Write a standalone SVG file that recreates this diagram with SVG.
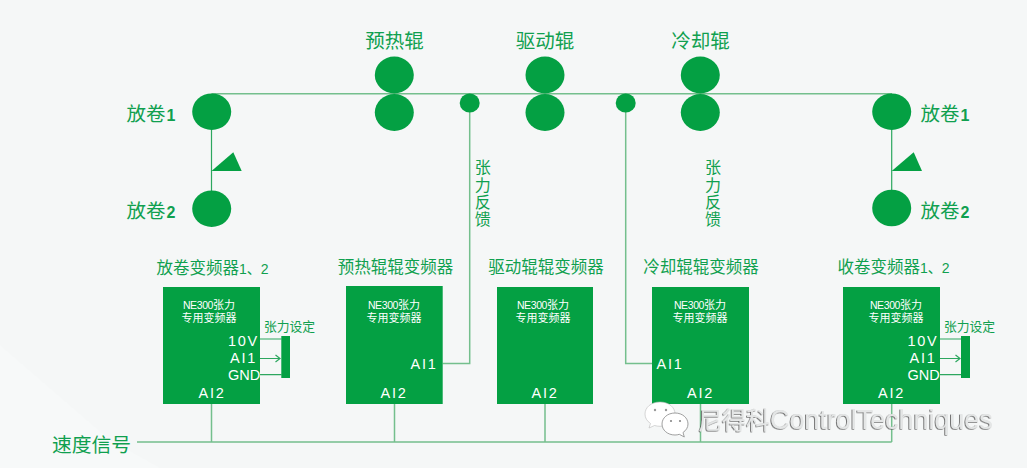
<svg xmlns="http://www.w3.org/2000/svg" width="1027" height="468" viewBox="0 0 1027 468">
<defs>
<style>
text{font-family:"Liberation Sans","Noto Sans CJK SC",sans-serif}
.roll{fill:#04a043}
.box{fill:#04a043}
.wire{fill:none;stroke:#74bf8d;stroke-width:1.5}
.wd{fill:none;stroke:#2da75f;stroke-width:1.2}
.lab{fill:#10a04f;text-anchor:middle}
.l20{font-size:19.5px}
.l16{font-size:16.5px}
.l15{font-size:16px}
.d{font-size:14px}
.r{font-size:16px;font-weight:bold}
.t{fill:#fff;font-size:11px;text-anchor:middle}
.n{font-size:10.5px;letter-spacing:-.4px}
.p{fill:#fff;font-size:14.5px;text-anchor:middle;letter-spacing:1.8px}
.g{letter-spacing:0}
</style>
<filter id="sh" x="-5%" y="-20%" width="110%" height="140%"><feDropShadow dx="-0.8" dy="0.6" stdDeviation="0.4" flood-color="#555"/></filter>
</defs>
<rect width="1027" height="468" fill="#f5f7f7"/>
<polygon points="0,345 110,440 160,468 0,468" fill="#f7f9f9"/>
<g id="connectors">
<path class="wire" d="M211.5 93.7H892"/>
<path class="wd" d="M211.5 125V195M891.7 125V195"/>
<path class="wire" d="M469.7 110V363.5H442.7"/>
<path class="wire" d="M625.7 110V363.5H652"/>
<path class="wire" d="M137 442H891.7M211.5 404V442M394.5 404V442M545 404V442M700.5 404V442M891.7 404V442"/>
<path class="wd" d="M260 339H281.5M260 358.5H280M275.5 355L280 358.5L275.5 362M260 374.7H281.5"/>
<path class="wd" d="M940 339H961.5M940 358.5H960M955.5 355L960 358.5L955.5 362M940 374.7H961.5"/>
</g>
<g id="unwind1"><ellipse class="roll" cx="211.7" cy="111.7" rx="19.5" ry="18.3"/><text class="lab l20" x="151" y="121">放卷<tspan class="r" dx="1">1</tspan></text></g>
<g id="unwind2"><ellipse class="roll" cx="211.7" cy="208.7" rx="19.5" ry="18.3"/><text class="lab l20" x="151" y="218">放卷<tspan class="r" dx="1">2</tspan></text></g>
<g id="dancer-left"><polygon class="roll" points="211.5,171 233.3,152.3 241.7,171"/></g>
<g id="preheat"><text class="lab l20" x="394.5" y="47.500">预热辊</text><ellipse class="roll" cx="394.3" cy="75" rx="19.5" ry="18.5"/><ellipse class="roll" cx="394.3" cy="112.5" rx="19.5" ry="18.5"/></g>
<g id="drive"><text class="lab l20" x="545" y="47.500">驱动辊</text><ellipse class="roll" cx="545" cy="75" rx="19.5" ry="18.5"/><ellipse class="roll" cx="545" cy="112.5" rx="19.5" ry="18.5"/></g>
<g id="cool"><text class="lab l20" x="700.5" y="47.500">冷却辊</text><ellipse class="roll" cx="700.3" cy="75" rx="19.5" ry="18.5"/><ellipse class="roll" cx="700.3" cy="112.5" rx="19.5" ry="18.5"/></g>
<g id="sensor1"><ellipse class="roll" cx="469.7" cy="103" rx="10" ry="9.5"/></g>
<g id="sensor2"><ellipse class="roll" cx="625.7" cy="103" rx="10" ry="9.5"/></g>
<g id="rewind1"><ellipse class="roll" cx="891.7" cy="111.7" rx="19.5" ry="18.3"/><text class="lab l20" x="945" y="121">放卷<tspan class="r" dx="1">1</tspan></text></g>
<g id="rewind2"><ellipse class="roll" cx="891.7" cy="208" rx="19.5" ry="18.3"/><text class="lab l20" x="945" y="218">放卷<tspan class="r" dx="1">2</tspan></text></g>
<g id="dancer-right"><polygon class="roll" points="891.7,171 913.7,152.3 922,171"/></g>
<g id="feedback1"><text class="lab l15" x="482.7" y="173">张</text><text class="lab l15" x="482.7" y="191">力</text><text class="lab l15" x="482.7" y="208">反</text><text class="lab l15" x="482.7" y="225">馈</text></g>
<g id="feedback2"><text class="lab l15" x="713" y="173">张</text><text class="lab l15" x="713" y="191">力</text><text class="lab l15" x="713" y="208">反</text><text class="lab l15" x="713" y="225">馈</text></g>
<g id="vfd1"><text class="lab l16" x="212.500" y="274">放卷变频器<tspan class="d">1、2</tspan></text><rect class="box" x="163" y="287" width="97" height="117"/><text class="t" x="209" y="309"><tspan class="n">NE300</tspan>张力</text><text class="t" x="209" y="322">专用变频器</text><text class="p" x="243.5" y="346">10V</text><text class="p" x="243.5" y="363">AI1</text><text class="p g" x="244" y="380">GND</text><text class="p" x="212" y="398">AI2</text></g>
<g id="setting1"><text class="lab" style="font-size:12.8px" x="289.5" y="331">张力设定</text><rect class="box" x="281.3" y="336" width="8.7" height="42"/></g>
<g id="vfd2"><text class="lab l16" x="395.5" y="273">预热辊辊变频器</text><rect class="box" x="346" y="286" width="96.7" height="118"/><text class="t" x="394" y="309"><tspan class="n">NE300</tspan>张力</text><text class="t" x="394" y="322">专用变频器</text><text class="p" x="424" y="369">AI1</text><text class="p" x="394" y="398">AI2</text></g>
<g id="vfd3"><text class="lab l16" x="546" y="273">驱动辊辊变频器</text><rect class="box" x="497" y="287" width="96" height="117"/><text class="t" x="543" y="309"><tspan class="n">NE300</tspan>张力</text><text class="t" x="543" y="322">专用变频器</text><text class="p" x="545" y="398">AI2</text></g>
<g id="vfd4"><text class="lab l16" x="701" y="273">冷却辊辊变频器</text><rect class="box" x="652" y="287" width="97" height="117"/><text class="t" x="700" y="309"><tspan class="n">NE300</tspan>张力</text><text class="t" x="700" y="322">专用变频器</text><text class="p" x="670" y="369">AI1</text><text class="p" x="700.5" y="398">AI2</text></g>
<g id="vfd5"><text class="lab l16" x="893.500" y="273">收卷变频器<tspan class="d">1、2</tspan></text><rect class="box" x="843" y="287" width="97" height="117"/><text class="t" x="896" y="309"><tspan class="n">NE300</tspan>张力</text><text class="t" x="896" y="322">专用变频器</text><text class="p" x="923" y="346">10V</text><text class="p" x="923" y="363">AI1</text><text class="p g" x="923.5" y="380">GND</text><text class="p" x="891.5" y="398">AI2</text></g>
<g id="setting2"><text class="lab" style="font-size:12.8px" x="969.5" y="331">张力设定</text><rect class="box" x="961" y="336" width="9" height="42"/></g>
<g id="speed-signal"><text class="lab" style="font-size:19.8px" x="91.5" y="452">速度信号</text></g>
<g id="watermark">
<path d="M660 402c-9 0-15 5.500-15 12 0 4 2 7 5.500 9.500l-1.500 4.500 5.500-2.500c2 .5 3.500.8 5.500.8 9 0 15-5.800 15-12.300s-6-12-15-12z" fill="#fff" stroke="#bbb" stroke-width=".6"/>
<path d="M675 413c-7.500 0-13 5-13 11s5.500 11 13 11c1.500 0 3-.2 4.300-.7l5 2.700-1.300-4.500c3-2 5-5 5-8.500 0-6-5.500-11-13-11z" fill="#fff" stroke="#888" stroke-width=".8"/>
<circle cx="655" cy="410" r="1.200" fill="#999"/><circle cx="666" cy="410" r="1.200" fill="#999"/><circle cx="671" cy="421" r="1.100" fill="#888"/><circle cx="680" cy="421" r="1.100" fill="#888"/>
<text x="698" y="429" filter="url(#sh)" style="font-size:24px;fill:#e4e6e6">尼得科<tspan style="font-size:26.9px">ControlTechniques</tspan></text>
</g>
</svg>
